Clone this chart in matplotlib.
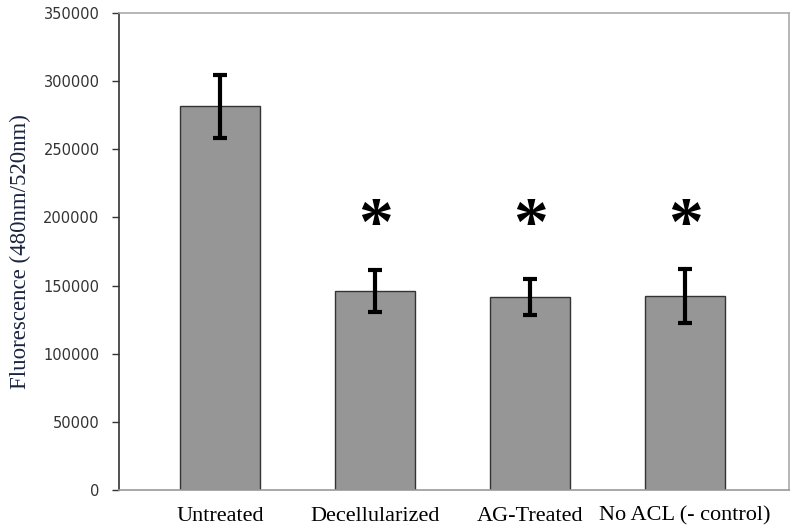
import matplotlib
matplotlib.use('Agg')
import matplotlib.pyplot as plt
import numpy as np

# data
categories = ["Untreated", "Decellularized", "AG-Treated", "No ACL (- control)"]
means = [281500, 146000, 141500, 142500]
errors = [23000, 15500, 13200, 20000]
significant = [False, True, True, True]
star_level = 192000

fig = plt.figure(figsize=(8.07, 5.29), dpi=100)
ax = fig.add_axes([0.1475, 0.0737, 0.8302, 0.9017])

pos = np.arange(len(categories))
ax.bar(pos, means, width=0.52, color='#969696', edgecolor='#333333', linewidth=1.0, zorder=2)
ax.errorbar(pos, means, yerr=errors, fmt='none', ecolor='black', elinewidth=3,
            capsize=5, capthick=3, zorder=3)

# significance markers
for p, sig in zip(pos, significant):
    if sig:
        ax.text(p, star_level, "*", ha='center', va='center', fontsize=50,
                family='Liberation Serif', fontweight='bold')

ax.set_xlim(-0.652, 3.67)
ax.set_ylim(0, 350000)
ax.set_yticks(np.arange(0, 350001, 50000))
ax.set_yticklabels([str(v) for v in range(0, 350001, 50000)])
ax.tick_params(axis='y', direction='out', length=5, width=1, colors='#333333', labelsize=10.5, pad=9)
ax.tick_params(axis='x', length=0, pad=12)
ax.set_xticks(pos)
ax.set_xticklabels(categories, family='Liberation Serif', fontsize=16)

ax.set_ylabel("Fluorescence (480nm/520nm)", family='Liberation Serif', fontsize=16.5,
              color='#1a2540', labelpad=9)

ax.spines['left'].set_color('#333333')
ax.spines['bottom'].set_color('#999999')
ax.spines['top'].set_color('#aaaaaa')
ax.spines['right'].set_color('#aaaaaa')
for s in ax.spines.values():
    s.set_linewidth(1.2)

fig.savefig("out.png", dpi=100)
